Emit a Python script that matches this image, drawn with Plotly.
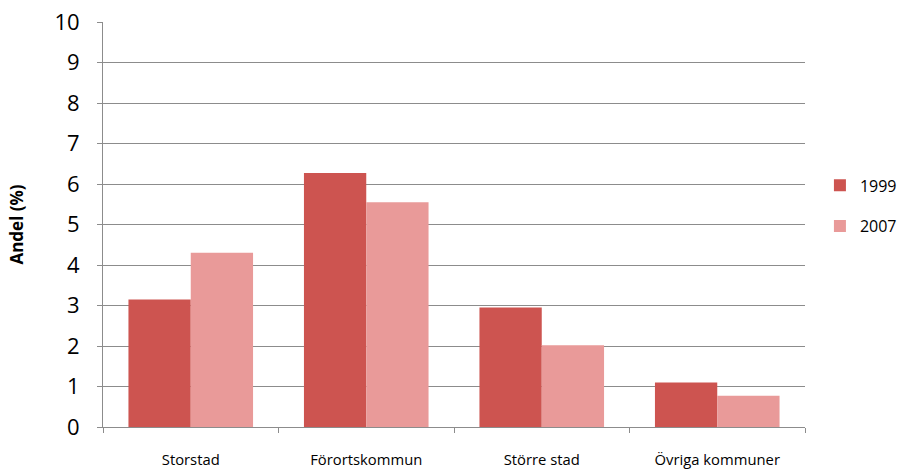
import plotly.graph_objects as go

categories = ["Storstad", "Förortskommun", "Större stad", "Övriga kommuner"]
values_1999 = [3.15, 6.27, 2.95, 1.10]
values_2007 = [4.30, 5.55, 2.02, 0.77]
y_ticks = list(range(0, 11))

fig = go.Figure()
fig.add_trace(go.Bar(x=categories, y=values_1999, name="1999",
                     marker=dict(color="#CD5450", line=dict(width=0)), legendgroup="a"))
fig.add_trace(go.Bar(x=categories, y=values_2007, name="2007",
                     marker=dict(color="#E99A99", line=dict(width=0)), legendgroup="b"))

fig.update_layout(
    width=907, height=469,
    margin=dict(l=103, r=102, t=22, b=42, autoexpand=False),
    plot_bgcolor="white", paper_bgcolor="white",
    barmode="group", bargap=0.29, bargroupgap=0,
    font=dict(family="Open Sans", color="#000000"),
    legend=dict(xref="container", yref="container", x=0.904, y=0.561,
                xanchor="left", yanchor="middle",
                font=dict(size=16), traceorder="grouped", tracegroupgap=17,
                itemwidth=30),
    showlegend=True,
)
fig.update_yaxes(range=[0, 10], tickvals=y_ticks, showgrid=True,
                 gridcolor="#8C8C8C", gridwidth=1,
                 showline=True, linecolor="#8C8C8C", linewidth=1,
                 ticks="outside", ticklen=5, tickcolor="#8C8C8C",
                 tickfont=dict(size=22), ticklabelstandoff=13,
                 title=dict(text="<b>Andel (%)</b>", font=dict(size=17), standoff=26),
                 zeroline=False, automargin=False)
fig.update_xaxes(showline=True, linecolor="#8C8C8C", linewidth=1,
                 ticks="outside", ticklen=5, tickcolor="#8C8C8C",
                 tickson="boundaries", tickfont=dict(size=14.8),
                 ticklabelstandoff=19, automargin=False)

fig.write_html("out.html")
